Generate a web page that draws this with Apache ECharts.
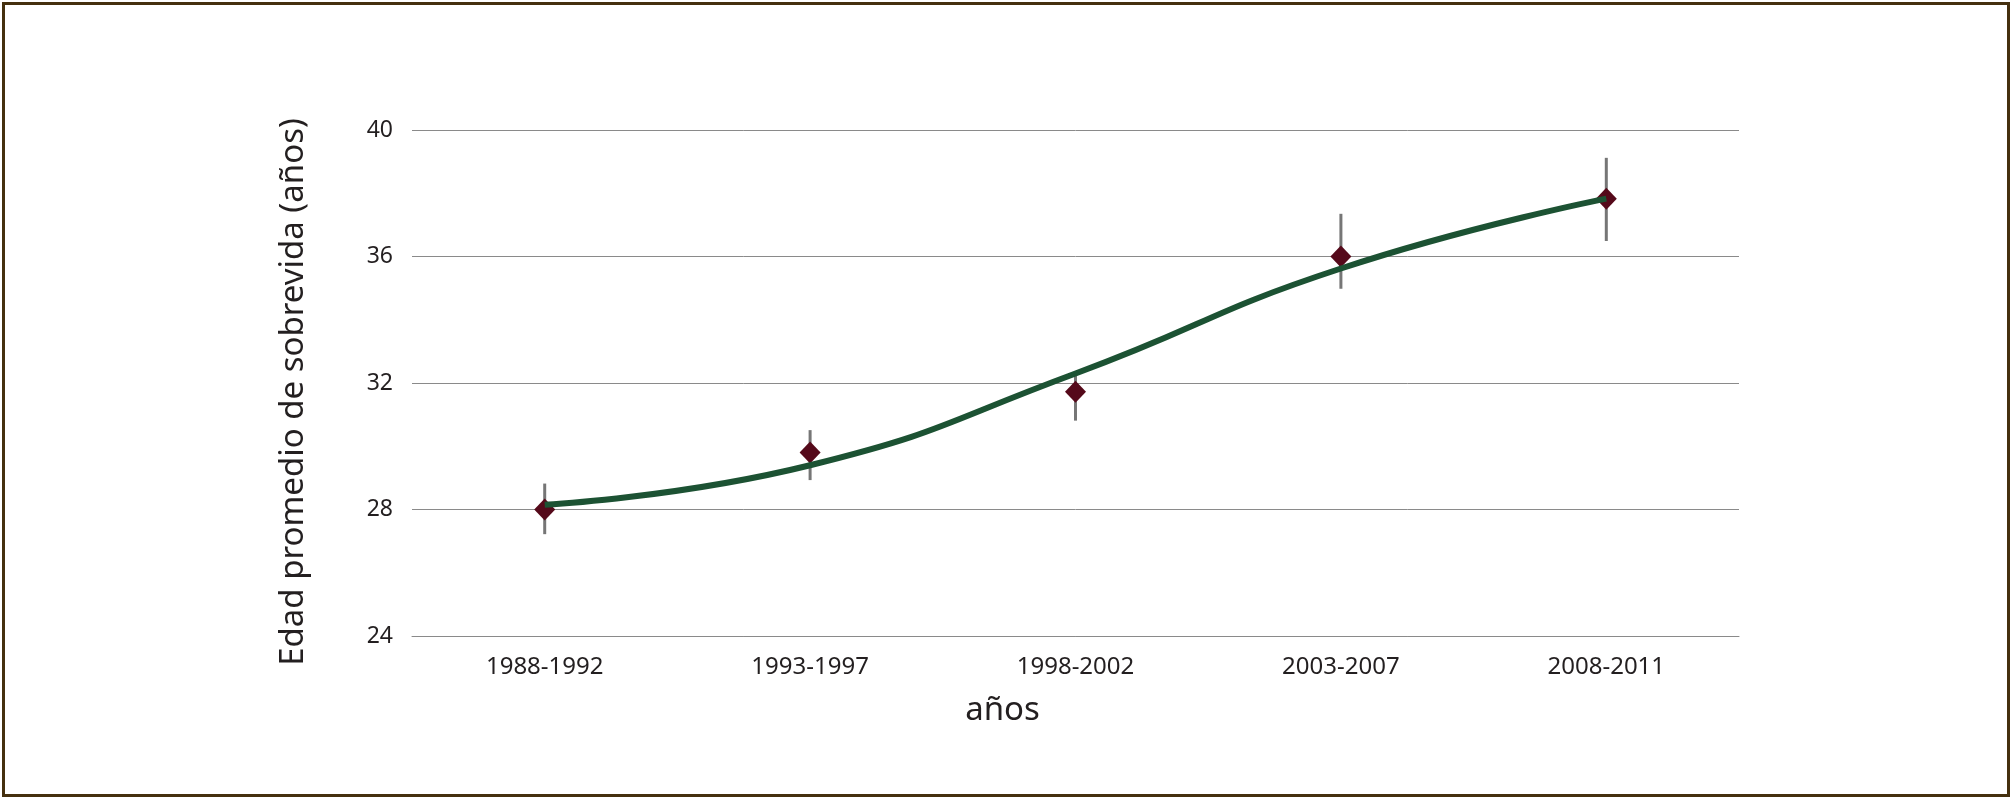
<!DOCTYPE html>
<html>
<head>
<meta charset="utf-8">
<style>
  html, body { margin: 0; padding: 0; background: #ffffff; }
  #chart { width: 2013px; height: 801px; }
</style>
<script src="https://cdn.jsdelivr.net/npm/echarts@6/dist/echarts.min.js"></script>
</head>
<body>
<div id="chart"></div>
<script>
const categories = ['1988-1992', '1993-1997', '1998-2002', '2003-2007', '2008-2011'];
const meanValues = [28.0, 29.8, 31.72, 36.0, 37.83];
const errorLow = [27.22, 28.93, 30.81, 34.98, 36.49];
const errorHigh = [28.82, 30.51, 32.24, 37.35, 39.12];
const trendValues = [28.15, 29.4, 32.3, 35.62, 37.83];
const yMin = 24, yMax = 40, yInterval = 4;
const xTitle = 'años';
const yTitle = 'Edad promedio de sobrevida (años)';

const FONT = '"Noto Sans", "Open Sans", sans-serif';
const chart = echarts.init(document.getElementById('chart'), null, { renderer: 'canvas' });

const errorData = categories.map((c, i) => [i, errorLow[i], errorHigh[i]]);

chart.setOption({
  animation: false,
  backgroundColor: '#ffffff',
  graphic: [{
    type: 'rect',
    shape: { x: 3.5, y: 3.5, width: 2005, height: 792 },
    style: { fill: 'none', stroke: '#45300f', lineWidth: 3 },
    silent: true
  }],
  grid: { left: 412, right: 274, top: 130, bottom: 165 },
  xAxis: {
    type: 'category',
    data: categories,
    boundaryGap: true,
    axisLine: { show: true, lineStyle: { color: '#8a8a8a', width: 1 } },
    axisTick: { show: false },
    axisLabel: { color: '#231f20', fontSize: 24, fontFamily: FONT, margin: 19 },
    name: xTitle,
    nameLocation: 'middle',
    nameGap: 58,
    nameTextStyle: { color: '#231f20', fontSize: 33, fontFamily: FONT, padding: [0, 146, 0, 0] }
  },
  yAxis: {
    type: 'value',
    min: yMin,
    max: yMax,
    interval: yInterval,
    axisLine: { show: false },
    axisTick: { show: false },
    splitLine: { show: true, lineStyle: { color: '#8a8a8a', width: 1 } },
    axisLabel: { color: '#231f20', fontSize: 23, fontFamily: FONT, margin: 19 },
    name: yTitle,
    nameLocation: 'middle',
    nameGap: 102,
    nameTextStyle: { color: '#231f20', fontSize: 33, fontFamily: FONT, padding: [0, 18, 0, 0] }
  },
  series: [
    {
      type: 'custom',
      name: 'error',
      z: 1,
      data: errorData,
      encode: { x: 0, y: [1, 2] },
      renderItem: function (params, api) {
        const x = api.value(0);
        const p1 = api.coord([x, api.value(1)]);
        const p2 = api.coord([x, api.value(2)]);
        return {
          type: 'line',
          shape: { x1: p1[0], y1: p1[1], x2: p2[0], y2: p2[1] },
          style: { stroke: '#767676', lineWidth: 3 }
        };
      }
    },
    {
      type: 'scatter',
      name: 'media',
      z: 2,
      data: meanValues,
      symbol: 'diamond',
      symbolSize: [21, 22],
      itemStyle: { color: '#55091a', opacity: 1 }
    },
    {
      type: 'line',
      name: 'tendencia',
      z: 3,
      data: trendValues,
      smooth: 0.5,
      showSymbol: false,
      symbol: 'none',
      lineStyle: { color: '#1c5233', width: 6 }
    }
  ]
});
</script>
</body>
</html>
